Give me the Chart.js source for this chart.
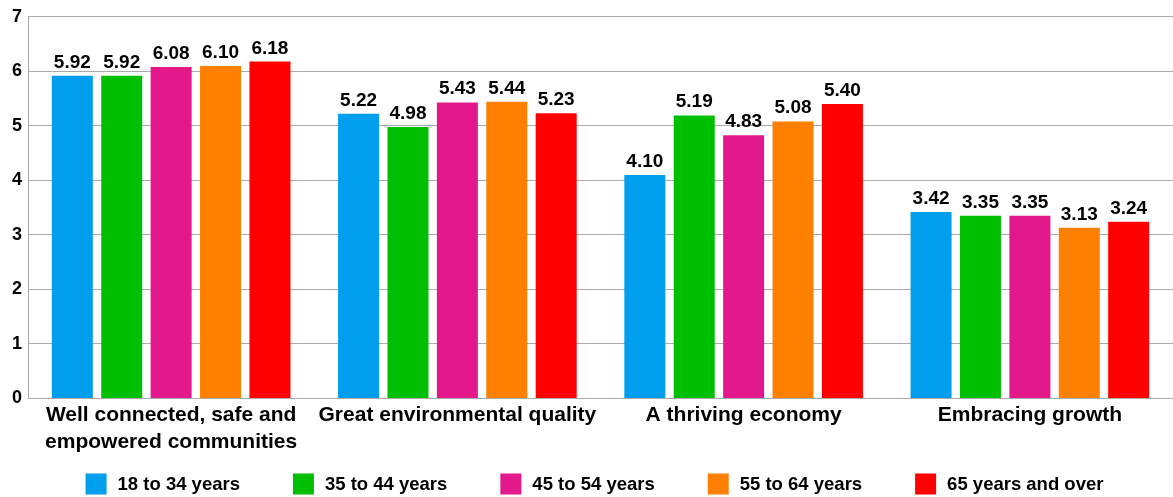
<!DOCTYPE html>
<html>
<head>
<meta charset="utf-8">
<script src="https://cdn.jsdelivr.net/npm/chart.js@4.4.1/dist/chart.umd.min.js"></script>
<style>
html, body { margin: 0; padding: 0; background: #fff; }
#contenedor { width: 1173px; height: 497px; position: relative; }
</style>
</head>
<body>
<div id="contenedor"><canvas id="barras"></canvas></div>
<script>
// Datos
var categorias = [
    ["Well connected, safe and", "empowered communities"],
    "Great environmental quality",
    "A thriving economy",
    "Embracing growth"
];
var grupos = ["18 to 34 years", "35 to 44 years", "45 to 54 years", "55 to 64 years", "65 years and over"];
var de18a34 = [5.92, 5.22, 4.10, 3.42];
var de35a44 = [5.92, 4.98, 5.19, 3.35];
var de45a54 = [6.08, 5.43, 4.83, 3.35];
var de55a64 = [6.10, 5.44, 5.08, 3.13];
var de65mas = [6.18, 5.23, 5.40, 3.24];
var ticksY = [0, 1, 2, 3, 4, 5, 6, 7];

var colores = ["#009FEE", "#00BF00", "#E3198B", "#FF8000", "#FF0000"];
var fuente = '"Liberation Sans", Arial, sans-serif';

/**
 * Etiquetas con el valor encima de cada barra
 */
var etiquetasValor = {
    id: "etiquetasValor",
    afterDatasetsDraw: function (chart) {
        var ctx = chart.ctx;
        ctx.save();
        ctx.font = "bold 19px " + fuente;
        ctx.fillStyle = "#000";
        ctx.textAlign = "center";
        ctx.textBaseline = "alphabetic";
        chart.data.datasets.forEach(function (ds, i) {
            chart.getDatasetMeta(i).data.forEach(function (barra, j) {
                ctx.fillText(ds.data[j].toFixed(2), barra.x, barra.y - 8);
            });
        });
        ctx.restore();
    }
};

/**
 * Leyenda dibujada a mano (cajas de 21px, separación amplia)
 */
var leyenda = {
    id: "leyenda",
    afterDraw: function (chart) {
        var ctx = chart.ctx;
        var caja = 21, hueco = 11, sep = 53;
        ctx.save();
        ctx.font = "bold 18.5px " + fuente;
        ctx.textBaseline = "middle";
        ctx.textAlign = "left";
        var anchos = chart.data.datasets.map(function (ds) {
            return caja + hueco + ctx.measureText(ds.label).width;
        });
        var total = anchos.reduce(function (a, b) { return a + b; }, 0) + sep * (anchos.length - 1);
        var x = chart.width / 2 + 8 - total / 2;
        var y = chart.height - 13;
        chart.data.datasets.forEach(function (ds, i) {
            ctx.fillStyle = ds.backgroundColor;
            ctx.fillRect(x, y - caja / 2, caja, caja);
            ctx.fillStyle = "#000";
            ctx.fillText(ds.label, x + caja + hueco, y + 1);
            x += anchos[i] + sep;
        });
        ctx.restore();
    }
};

function cargaGraficoBarras() {
    var valores = [de18a34, de35a44, de45a54, de55a64, de65mas];
    var datos = {
        labels: categorias,
        datasets: grupos.map(function (g, i) {
            return {
                label: g,
                data: valores[i],
                backgroundColor: colores[i],
                barPercentage: 0.83,
                categoryPercentage: 0.863
            };
        })
    };

    var config = {
        type: "bar",
        data: datos,
        options: {
            responsive: true,
            maintainAspectRatio: false,
            animation: false,
            layout: { padding: { top: 8, right: 0, left: 6, bottom: 38 } },
            plugins: {
                legend: { display: false },
                tooltip: { enabled: false }
            },
            scales: {
                x: {
                    grid: { display: false, drawTicks: false },
                    border: { display: true, color: "#aaaaaa" },
                    ticks: {
                        color: "#000",
                        font: { family: fuente, size: 21, weight: "bold", lineHeight: 1.25 },
                        padding: 4,
                        maxRotation: 0,
                        autoSkip: false
                    }
                },
                y: {
                    min: ticksY[0],
                    max: ticksY[ticksY.length - 1],
                    afterBuildTicks: function (escala) {
                        escala.ticks = ticksY.map(function (v) { return { value: v }; });
                    },
                    grid: { color: "#aaaaaa", drawTicks: false },
                    border: { display: true, color: "#aaaaaa" },
                    ticks: {
                        color: "#000",
                        font: { family: fuente, size: 18, weight: "bold" },
                        padding: 6
                    }
                }
            }
        },
        plugins: [etiquetasValor, leyenda]
    };
    new Chart(document.getElementById("barras").getContext("2d"), config);
}

cargaGraficoBarras();
</script>
</body>
</html>
